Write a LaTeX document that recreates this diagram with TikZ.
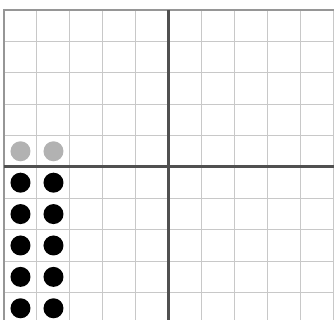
\documentclass[tikz,border=0pt]{standalone}
\usepackage{tikz}
\definecolor{gridgray}{RGB}{200,200,200}
\definecolor{framegray}{RGB}{150,150,150}
\definecolor{axisgray}{RGB}{80,80,80}
\definecolor{ghostgray}{RGB}{178,178,178}
\tikzset{
    stone/.style={circle, inner sep=0pt, minimum size=20pt, fill=#1},
}

\begin{document}
\begin{tikzpicture}[x=33pt, y=-31.4pt]
    \useasboundingbox (-0.121,-0.318) rectangle (10.0,9.873);
    \clip (-0.121,-0.318) rectangle (10.0,9.873);
    % grid
    \foreach \i in {1,...,10}
        \draw[gridgray, line width=1pt] (\i,0) -- (\i,10.5);
    \foreach \j in {1,...,10}
        \draw[gridgray, line width=1pt] (0,\j) -- (10.5,\j);
    \draw[framegray, line width=1.2pt] (0,10.5) -- (0,0) -- (10.5,0);
    % axes
    \draw[axisgray, line width=3pt] (5,0) -- (5,10.5);
    \draw[axisgray, line width=3pt] (0,5) -- (10.5,5);
    % stones
    \foreach \c in {0,1} {
        \node[stone=ghostgray] (ghost-\c) at (\c+0.5,4.5) {};
        \foreach \r in {5,...,9}
            \node[stone=black] (stone-\r-\c) at (\c+0.5,\r+0.5) {};
    }
\end{tikzpicture}
\end{document}
